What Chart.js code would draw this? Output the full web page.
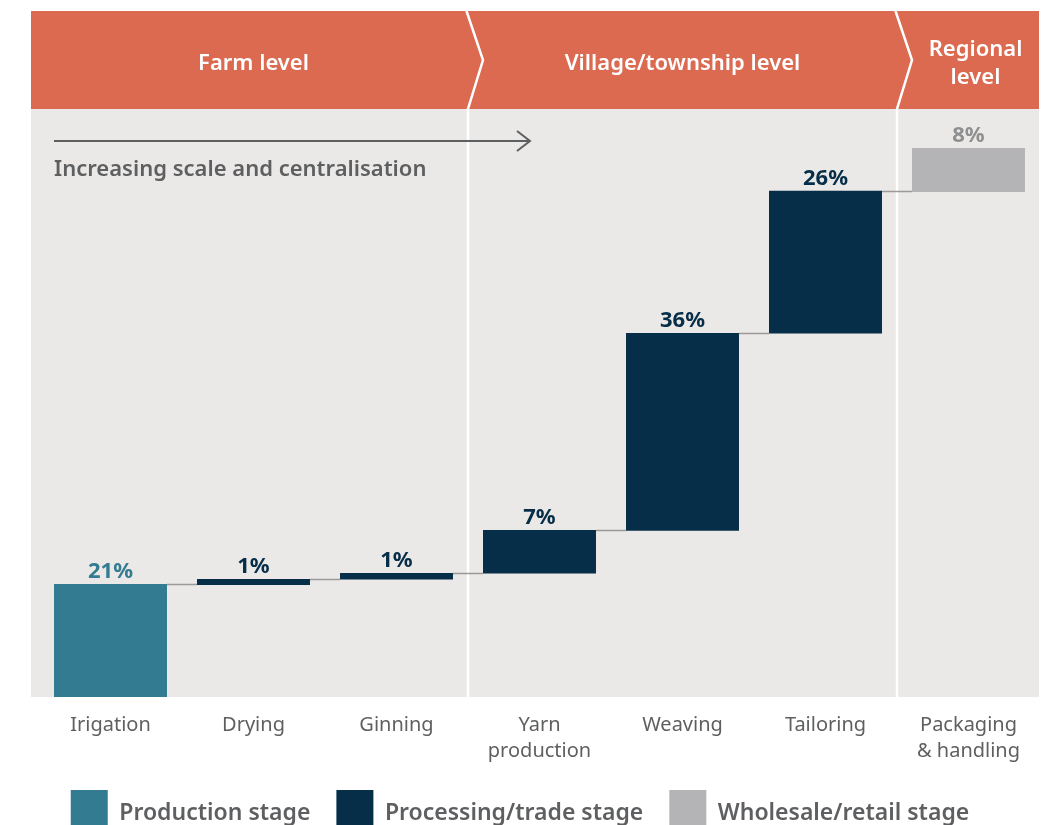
<!DOCTYPE html>
<html>
<head>
<meta charset="utf-8">
<title>Cotton value chain</title>
<script src="https://cdn.jsdelivr.net/npm/chart.js@4.4.1/dist/chart.umd.min.js"></script>
<style>
  html, body { margin: 0; padding: 0; background: #fff; overflow: hidden; }
  #wrap { position: relative; width: 1042px; height: 825px; overflow: hidden; }
  #box { position: absolute; left: 0; top: 0; width: 1042px; height: 846px; }
</style>
</head>
<body>
<div id="wrap"><div id="box"><canvas id="chart"></canvas></div></div>
<script>
// stages of the chain (x axis)
const stages = [['Irigation'], ['Drying'], ['Ginning'], ['Yarn', 'production'], ['Weaving'], ['Tailoring'], ['Packaging', '& handling']];
const shareLabels = ['21%', '1%', '1%', '7%', '36%', '26%', '8%'];
// cumulative share, where each floating bar starts and ends
const barStart = [0, 20.4, 21.4, 22.5, 30.3, 66.2, 92.0];
const barEnd = [20.6, 21.5, 22.6, 30.4, 66.3, 92.2, 100];
const stageType = ['production', 'processing', 'processing', 'processing', 'processing', 'processing', 'wholesale'];

const typeNames = ['production', 'processing', 'wholesale'];
const legendNames = ['Production stage', 'Processing/trade stage', 'Wholesale/retail stage'];

// header bands
const levelNames = [['Farm level'], ['Village/township level'], ['Regional', 'level']];
const levelFirst = [0, 3, 6];
const levelLast = [2, 5, 6];
const trendLabel = 'Increasing scale and centralisation';

const COL = {
  production: '#327B91',
  processing: '#062E48',
  wholesale: '#B4B4B6',
  header: '#DB6A51',
  panel: '#EBE9E7',
  text: '#5E5F61',
  connector: '#9A9A9A'
};
const labelColor = { production: '#327B91', processing: '#062E48', wholesale: '#8E8F91' };
const FONT = "'Noto Sans', 'Open Sans', sans-serif";

const datasets = typeNames.map((t, k) => ({
  label: legendNames[k],
  data: stages.map((_, i) => stageType[i] === t ? [barStart[i], barEnd[i]] : null),
  backgroundColor: COL[t],
  borderWidth: 0,
  grouped: false,
  categoryPercentage: 1,
  barPercentage: 0.79
}));

function barAt(chart, i) {
  for (let d = 0; d < chart.data.datasets.length; d++) {
    if (chart.data.datasets[d].data[i]) return chart.getDatasetMeta(d).data[i];
  }
  return null;
}

const decor = {
  id: 'decor',
  beforeDraw(chart) {
    const { ctx, chartArea: ca, scales: { x } } = chart;
    const left = ca.left - 8, right = ca.right - 1;
    const top = 11, headBottom = 109;
    ctx.save();
    // grey panel + header band
    ctx.fillStyle = COL.panel;
    ctx.fillRect(left, headBottom, right - left, ca.bottom - headBottom);
    ctx.fillStyle = COL.header;
    ctx.fillRect(left, top, right - left, headBottom - top);

    // separators between levels
    ctx.strokeStyle = '#fff';
    ctx.lineWidth = 2.5;
    for (let k = 1; k < levelFirst.length; k++) {
      const sx = (x.getPixelForValue(levelLast[k - 1]) + x.getPixelForValue(levelFirst[k])) / 2;
      ctx.beginPath();
      ctx.moveTo(sx - 1.5, top);
      ctx.lineTo(sx + 15, (top + headBottom) / 2);
      ctx.lineTo(sx, headBottom);
      ctx.lineTo(sx, ca.bottom);
      ctx.stroke();
    }

    // level names
    ctx.fillStyle = '#fff';
    ctx.font = `600 22px ${FONT}`;
    ctx.textAlign = 'center';
    ctx.textBaseline = 'alphabetic';
    levelNames.forEach((lines, k) => {
      const cx = (x.getPixelForValue(levelFirst[k]) + x.getPixelForValue(levelLast[k])) / 2 + (levelFirst[k] === levelLast[k] ? 7 : 0);
      const y0 = 70 - (lines.length - 1) * 14;
      lines.forEach((s, j) => ctx.fillText(s, cx, y0 + j * 28));
    });

    // trend arrow
    const ax0 = barAt(chart, 0).x - barAt(chart, 0).width / 2;
    const ax1 = 530, ay = 141;
    ctx.strokeStyle = COL.text;
    ctx.lineWidth = 2;
    ctx.beginPath();
    ctx.moveTo(ax0, ay); ctx.lineTo(ax1, ay);
    ctx.moveTo(ax1 - 13, ay - 10); ctx.lineTo(ax1, ay); ctx.lineTo(ax1 - 13, ay + 10);
    ctx.stroke();
    ctx.fillStyle = COL.text;
    ctx.font = `600 22px ${FONT}`;
    ctx.textAlign = 'left';
    ctx.fillText(trendLabel, ax0, 176);
    ctx.restore();
  },
  afterDatasetsDraw(chart) {
    const { ctx, scales: { y } } = chart;
    ctx.save();
    // connectors between bars
    ctx.strokeStyle = COL.connector;
    ctx.lineWidth = 1.5;
    for (let i = 0; i < stages.length - 1; i++) {
      const a = barAt(chart, i), b = barAt(chart, i + 1);
      const yy = Math.round(y.getPixelForValue(barEnd[i])) + 0.5;
      ctx.beginPath();
      ctx.moveTo(a.x + a.width / 2, yy);
      ctx.lineTo(b.x - b.width / 2, yy);
      ctx.stroke();
    }
    // value labels
    ctx.font = `bold 22px ${FONT}`;
    ctx.textAlign = 'center';
    ctx.textBaseline = 'alphabetic';
    stages.forEach((_, i) => {
      const el = barAt(chart, i);
      ctx.fillStyle = labelColor[stageType[i]];
      ctx.fillText(shareLabels[i], el.x, y.getPixelForValue(barEnd[i]) - 6);
    });
    ctx.restore();
  }
};

new Chart(document.getElementById('chart'), {
  type: 'bar',
  data: { labels: stages, datasets },
  options: {
    responsive: true,
    maintainAspectRatio: false,
    animation: false,
    layout: { padding: { left: 0, right: 2, top: 148, bottom: 0 } },
    scales: {
      x: {
        grid: { display: false, drawTicks: false },
        border: { display: false },
        ticks: {
          color: COL.text,
          font: { family: FONT, size: 20, lineHeight: 1.3 },
          padding: 15,
          autoSkip: false,
          maxRotation: 0
        },
        afterFit(axis) { axis.height = 67; }
      },
      y: {
        min: 0, max: 100,
        grid: { display: false },
        border: { display: false },
        ticks: { display: false },
        afterFit(axis) { axis.width = 39; }
      }
    },
    plugins: {
      legend: {
        position: 'bottom',
        labels: {
          boxWidth: 37,
          boxHeight: 46,
          padding: 26,
          color: COL.text,
          font: { family: FONT, size: 23, weight: '600' }
        }
      },
      tooltip: { enabled: false }
    }
  },
  plugins: [decor]
});
</script>
</body>
</html>
